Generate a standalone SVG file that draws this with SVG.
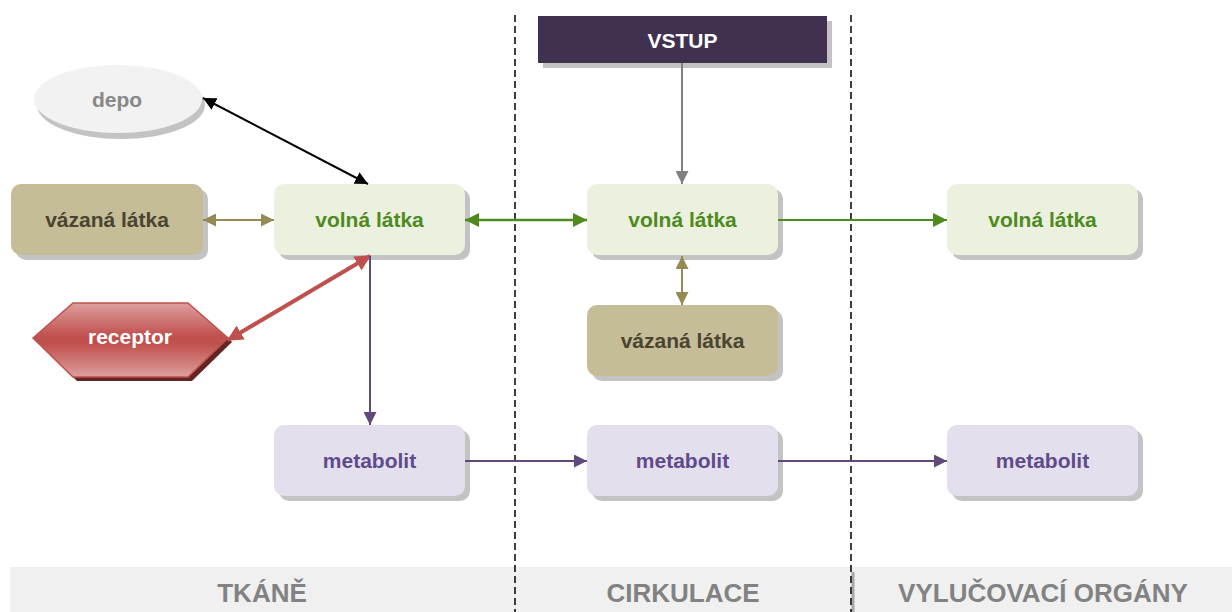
<svg xmlns="http://www.w3.org/2000/svg" width="1232" height="612" viewBox="0 0 1232 612">
<style>
.t{font-family:"Liberation Sans",Arial,sans-serif;font-weight:bold;font-size:21px;text-anchor:middle}
.sh{fill:#c3c3c3}
.volna{fill:#ebf1de}
.vaz{fill:#c4bd97}
.met{fill:#e4dfec}
.tv{fill:#4f8a1f}
.tz{fill:#4a4430}
.tm{fill:#5f4b8b}
.band{font-family:"Liberation Sans",Arial,sans-serif;font-weight:bold;font-size:26px;fill:#828282;text-anchor:middle}
.dash{stroke:#000;stroke-width:1.5;stroke-dasharray:7 4;fill:none}
</style>
<defs>
<linearGradient id="rg" x1="0" y1="0" x2="0" y2="1">
<stop offset="0" stop-color="#dd9f9d"/>
<stop offset="0.45" stop-color="#c0504d"/>
<stop offset="0.55" stop-color="#c0504d"/>
<stop offset="1" stop-color="#dd9f9d"/>
</linearGradient>
<marker id="mk" viewBox="0 0 12 12" refX="12" refY="6" markerWidth="13" markerHeight="13" markerUnits="userSpaceOnUse" orient="auto-start-reverse"><path d="M0,0 L12,6 L0,12 z" fill="#000"/></marker>
<marker id="mo" viewBox="0 0 12 12" refX="12" refY="6" markerWidth="13" markerHeight="13" markerUnits="userSpaceOnUse" orient="auto-start-reverse"><path d="M0,0 L12,6 L0,12 z" fill="#948a54"/></marker>
<marker id="mg" viewBox="0 0 12 12" refX="12" refY="6" markerWidth="14" markerHeight="14" markerUnits="userSpaceOnUse" orient="auto-start-reverse"><path d="M0,0 L12,6 L0,12 z" fill="#4f8a1f"/></marker>
<marker id="my" viewBox="0 0 12 12" refX="12" refY="6" markerWidth="13" markerHeight="13" markerUnits="userSpaceOnUse" orient="auto-start-reverse"><path d="M0,0 L12,6 L0,12 z" fill="#808080"/></marker>
<marker id="mr" viewBox="0 0 12 12" refX="11" refY="6" markerWidth="16" markerHeight="16" markerUnits="userSpaceOnUse" orient="auto-start-reverse"><path d="M0,0 L12,6 L0,12 z" fill="#c0504d"/></marker>
<marker id="mp" viewBox="0 0 12 12" refX="12" refY="6" markerWidth="13" markerHeight="13" markerUnits="userSpaceOnUse" orient="auto-start-reverse"><path d="M0,0 L12,6 L0,12 z" fill="#604a7b"/></marker>
</defs>

<rect x="0" y="0" width="1232" height="612" fill="#fff"/>

<!-- bottom band -->
<g id="band">
<rect x="10" y="567" width="1222" height="45" fill="#f0f0f0"/>
<line x1="853" y1="572" x2="853" y2="612" stroke="#a8a8a8" stroke-width="3"/>
<text class="band" x="262" y="602">TKÁNĚ</text>
<text class="band" x="683" y="602">CIRKULACE</text>
<text class="band" x="1043" y="602">VYLUČOVACÍ ORGÁNY</text>
</g>

<!-- dashed zone separators -->
<g id="separators">
<line class="dash" x1="515" y1="15" x2="515" y2="612"/>
<line class="dash" x1="851" y1="15" x2="851" y2="612"/>
</g>

<g id="vstup">
<rect x="543" y="21" width="289" height="47" class="sh"/>
<rect x="538" y="16" width="289" height="47" fill="#403151"/>
<text class="t" x="682.5" y="47.5" fill="#fff">VSTUP</text>
</g>

<g id="depo">
<ellipse cx="121" cy="105" rx="84" ry="34" class="sh"/>
<ellipse cx="118" cy="99" rx="84" ry="34" fill="#f2f2f2"/>
<text class="t" x="117" y="107" fill="#888">depo</text>
</g>

<g id="vazana-tkan">
<rect x="16" y="189" width="192" height="71" rx="10" class="sh"/>
<rect x="11" y="184" width="192" height="71" rx="10" class="vaz"/>
<text class="t tz" x="107" y="227">vázaná látka</text>
</g>

<g id="volna-tkan">
<rect x="279" y="189" width="191" height="71" rx="10" class="sh"/>
<rect x="274" y="184" width="191" height="71" rx="10" class="volna"/>
<text class="t tv" x="369.5" y="227">volná látka</text>
</g>

<g id="volna-cirk">
<rect x="592" y="189" width="191" height="71" rx="10" class="sh"/>
<rect x="587" y="184" width="191" height="71" rx="10" class="volna"/>
<text class="t tv" x="682.5" y="227">volná látka</text>
</g>

<g id="volna-vyl">
<rect x="952" y="189" width="191" height="71" rx="10" class="sh"/>
<rect x="947" y="184" width="191" height="71" rx="10" class="volna"/>
<text class="t tv" x="1042.5" y="227">volná látka</text>
</g>

<g id="receptor">
<polygon points="37,342 77,307 192,307 232,342 192,381 77,381" fill="#632523"/>
<polygon points="33,338 73,303 188,303 228,338 188,377 73,377" fill="url(#rg)" stroke="#c0504d" stroke-width="1.5"/>
<text class="t" x="130" y="344" fill="#fff">receptor</text>
</g>

<g id="vazana-cirk">
<rect x="592" y="310" width="191" height="71" rx="10" class="sh"/>
<rect x="587" y="305" width="191" height="71" rx="10" class="vaz"/>
<text class="t tz" x="682.5" y="348">vázaná látka</text>
</g>

<g id="metabolit-tkan">
<rect x="279" y="430" width="191" height="71" rx="10" class="sh"/>
<rect x="274" y="425" width="191" height="71" rx="10" class="met"/>
<text class="t tm" x="369.5" y="468">metabolit</text>
</g>

<g id="metabolit-cirk">
<rect x="592" y="430" width="191" height="71" rx="10" class="sh"/>
<rect x="587" y="425" width="191" height="71" rx="10" class="met"/>
<text class="t tm" x="682.5" y="468">metabolit</text>
</g>

<g id="metabolit-vyl">
<rect x="952" y="430" width="191" height="71" rx="10" class="sh"/>
<rect x="947" y="425" width="191" height="71" rx="10" class="met"/>
<text class="t tm" x="1042.5" y="468">metabolit</text>
</g>

<g id="connectors" fill="none">
<line x1="203" y1="98" x2="368" y2="184" stroke="#000" stroke-width="2" marker-start="url(#mk)" marker-end="url(#mk)"/>
<line x1="203" y1="220" x2="274" y2="220" stroke="#948a54" stroke-width="2" marker-start="url(#mo)" marker-end="url(#mo)"/>
<line x1="465" y1="220" x2="587" y2="220" stroke="#4f8a1f" stroke-width="2.5" marker-start="url(#mg)" marker-end="url(#mg)"/>
<line x1="778" y1="220" x2="947" y2="220" stroke="#4f8a1f" stroke-width="2" marker-end="url(#mg)"/>
<line x1="682" y1="63" x2="682" y2="184" stroke="#808080" stroke-width="2" marker-end="url(#my)"/>
<line x1="682" y1="256" x2="682" y2="305" stroke="#948a54" stroke-width="2" marker-start="url(#mo)" marker-end="url(#mo)"/>
<line x1="370" y1="256" x2="228" y2="340" stroke="#c0504d" stroke-width="4" marker-start="url(#mr)" marker-end="url(#mr)"/>
<line x1="370" y1="256" x2="370" y2="425" stroke="#604a7b" stroke-width="2" marker-end="url(#mp)"/>
<line x1="465" y1="461" x2="587" y2="461" stroke="#604a7b" stroke-width="2" marker-end="url(#mp)"/>
<line x1="778" y1="461" x2="947" y2="461" stroke="#604a7b" stroke-width="2" marker-end="url(#mp)"/>
</g>
</svg>
